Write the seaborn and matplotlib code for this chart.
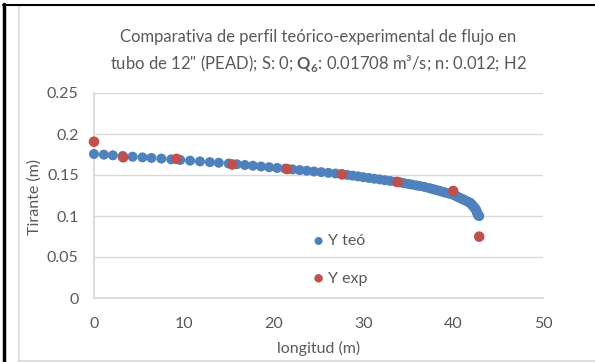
import matplotlib
matplotlib.use("Agg")
import matplotlib.pyplot as plt
import seaborn as sns
import pandas as pd
from matplotlib.lines import Line2D
from matplotlib.ticker import FixedLocator

# ---------------- data ----------------
x_teo = [0.0, 1.1, 2.1, 3.2, 4.3, 5.4, 6.4, 7.5, 8.6, 9.6, 10.7, 11.8, 12.9, 13.9, 15.0,
         15.9, 16.8, 17.7, 18.6, 19.5, 20.4, 21.3,
         22.1, 22.9, 23.7, 24.5, 25.3, 26.1, 26.9, 27.6,
         28.2, 28.8, 29.4, 30.0, 30.6, 31.2, 31.8, 32.4, 33.0, 33.6,
         34.1, 34.5, 35.0, 35.4, 35.9, 36.3, 36.8,
         37.3, 37.6, 37.9, 38.2, 38.5, 38.8, 39.1, 39.4, 39.7, 40.0,
         40.2, 40.4, 40.6, 40.8, 41.0, 41.2, 41.4, 41.6, 41.8, 41.9,
         42.0, 42.1, 42.2, 42.3, 42.4, 42.5,
         42.55, 42.6, 42.65, 42.7, 42.75, 42.8, 42.85, 42.9]
y_teo = [0.1756, 0.1748, 0.1740, 0.1732, 0.1723, 0.1715, 0.1708, 0.1700, 0.1691, 0.1684, 0.1675, 0.1666, 0.1657, 0.1649, 0.1640,
         0.1631, 0.1622, 0.1613, 0.1604, 0.1595, 0.1586, 0.1577,
         0.1569, 0.1560, 0.1552, 0.1543, 0.1535, 0.1526, 0.1518, 0.1510,
         0.1501, 0.1492, 0.1483, 0.1473, 0.1464, 0.1455, 0.1446, 0.1436, 0.1427, 0.1418,
         0.1409, 0.1401, 0.1391, 0.1383, 0.1373, 0.1365, 0.1355,
         0.1341, 0.1332, 0.1323, 0.1314, 0.1305, 0.1296, 0.1287, 0.1278, 0.1269, 0.1260,
         0.1250, 0.1239, 0.1228, 0.1218, 0.1207, 0.1197, 0.1186, 0.1176, 0.1165, 0.1160,
         0.1148, 0.1135, 0.1123, 0.1110, 0.1098, 0.1085,
         0.1071, 0.1057, 0.1043, 0.1030, 0.1018, 0.1008, 0.1003, 0.1000]
x_exp = [0.0, 3.25, 9.2, 15.4, 21.5, 27.6, 33.8, 40.0, 42.9]
y_exp = [0.1906, 0.1716, 0.1697, 0.1628, 0.1573, 0.1508, 0.1415, 0.1305, 0.0748]

x_ticks = [0, 10, 20, 30, 40, 50]
y_ticks = [0, 0.05, 0.10, 0.15, 0.20, 0.25]
y_tick_labels = ["0", "0.05", "0.1", "0.15", "0.2", "0.25"]

df_teo = pd.DataFrame({"longitud": x_teo, "tirante": y_teo})
df_exp = pd.DataFrame({"longitud": x_exp, "tirante": y_exp})

# ---------------- style ----------------
sns.set_theme(style="white")
FONT = ["Lato", "DejaVu Sans"]
plt.rcParams["font.family"] = FONT
plt.rcParams["mathtext.fontset"] = "custom"
plt.rcParams["mathtext.rm"] = "Lato"
plt.rcParams["mathtext.bf"] = "Lato:bold"

TXT = "#595959"
GRID = "#D9D9D9"
BLUE = "#4F81BD"
RED = "#C0504D"
FS = 11.5

W, H = 595, 362
fig = plt.figure(figsize=(W / 100, H / 100), dpi=100)
fig.patch.set_facecolor("white")

L, R, T, B = 94, 543, 93, 298
ax = fig.add_axes([L / W, 1 - B / H, (R - L) / W, (B - T) / H])

sns.scatterplot(data=df_teo, x="longitud", y="tirante", ax=ax, color=BLUE,
                s=52, edgecolor="none", linewidth=0, label="Y teó", clip_on=False, zorder=3)
sns.scatterplot(data=df_exp, x="longitud", y="tirante", ax=ax, color=RED,
                s=58, edgecolor="none", linewidth=0, label="Y exp", clip_on=False, zorder=4)

ax.set_xlim(0, 50)
ax.set_ylim(0, 0.25)
ax.xaxis.set_major_locator(FixedLocator(x_ticks))
ax.yaxis.set_major_locator(FixedLocator(y_ticks))
ax.set_yticklabels(y_tick_labels)
ax.set_xticklabels([str(t) for t in x_ticks])
ax.tick_params(axis="both", length=0, labelsize=FS, colors=TXT)
ax.tick_params(axis="y", pad=11)
ax.tick_params(axis="x", pad=14)

ax.grid(axis="y", color=GRID, linewidth=1.0)
ax.grid(axis="x", visible=False)
ax.set_axisbelow(True)
for side in ["top", "right"]:
    ax.spines[side].set_visible(False)
for side in ["left", "bottom"]:
    ax.spines[side].set_color(GRID)
    ax.spines[side].set_linewidth(1.3)

ax.set_xlabel("longitud (m)", fontsize=FS, color=TXT)
ax.set_ylabel("Tirante (m)", fontsize=FS, color=TXT)
ax.xaxis.set_label_coords(0.5, -(341 - B) / (B - T))
ax.yaxis.set_label_coords(-(L - 42) / (R - L), (B - 197) / (B - T))

# legend
ax.legend(loc="upper left", bbox_to_anchor=(301 / W, 1 - 226 / H), bbox_transform=fig.transFigure,
          frameon=False, fontsize=FS, labelcolor=TXT, markerscale=0.8,
          handletextpad=0.0, handlelength=1.2, labelspacing=1.45, borderpad=0)

# title
fig.text(318 / W, 1 - 37 / H, "Comparativa de perfil teórico-experimental de flujo en",
         ha="center", va="center", fontsize=12, color=TXT)
fig.text(318 / W, 1 - 63 / H,
         'tubo de 12" (PEAD); S: 0; $\\mathbf{Q}_{\\mathbf{6}}$: 0.01708 m³/s; n: 0.012; H2',
         ha="center", va="center", fontsize=12, color=TXT)

# frame lines
def fline(x0, y0, x1, y1, color, lw):
    fig.add_artist(Line2D([x0 / W, x1 / W], [1 - y0 / H, 1 - y1 / H],
                          transform=fig.transFigure, color=color, linewidth=lw))

fline(18.5, 5, 18.5, 362, "#D9D9D9", 1.2)
fline(18, 361, 595, 361, "#D9D9D9", 1.2)
fline(3, 4.5, 595, 4.5, "black", 1.5)
fline(4, 4, 4, 362, "black", 2.5)

fig.savefig("out.png", dpi=100, facecolor="white")
